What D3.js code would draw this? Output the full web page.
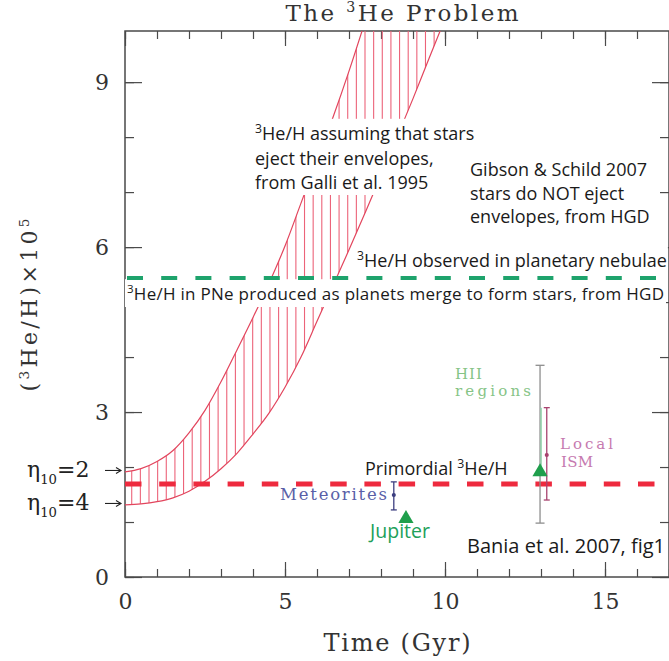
<!DOCTYPE html>
<html>
<head>
<meta charset="utf-8">
<script src="https://cdn.jsdelivr.net/npm/d3@7"></script>
<style>
  body { margin: 0; background: #fff; }
  svg { display: block; }
</style>
</head>
<body>
<svg id="chart" width="669" height="661"></svg>
<script>
// Galli et al. 1995 band, 3He/H x 1e5 against time in Gyr
const upperTime  = [0, 0.5, 1, 1.5, 2, 2.5, 3, 3.5, 4, 4.5, 5, 5.5, 6, 6.5, 7, 7.5];
const upperValue = [1.91, 1.97, 2.1, 2.3, 2.62, 3.03, 3.55, 4.13, 4.72, 5.34, 6.02, 6.8, 7.58, 8.36, 9.2, 10.1];
const lowerTime  = [0, 0.5, 1, 1.5, 2, 2.5, 3, 3.5, 4, 4.5, 5, 5.5, 6, 6.5, 7, 7.5, 8, 8.5, 9, 9.5, 10];
const lowerValue = [1.31, 1.33, 1.37, 1.44, 1.56, 1.74, 1.97, 2.25, 2.6, 2.98, 3.45, 4.0, 4.65, 5.3, 5.95, 6.62, 7.3, 8.0, 8.7, 9.43, 10.15];

// horizontal reference levels
const primordialLevel = 1.69;
const nebulaeLevel = 5.44;

// error bars
const barNames = ['Meteorites', 'HII regions', 'Local ISM'];
const barTime  = [8.4, 12.97, 13.18];
const barLow   = [1.22, 0.98, 1.4];
const barHigh  = [1.73, 3.85, 3.08];
const barMid   = [1.49, null, 2.22];

// triangle markers
const markerNames = ['Jupiter', 'HII regions'];
const markerTime  = [8.78, 12.97];
const markerValue = [1.06, 1.91];
const markerHigh  = [null, 3.08];

// axes
const xMinorTicks = [0, 1, 2, 3, 4, 5, 6, 7, 8, 9, 10, 11, 12, 13, 14, 15, 16, 17];
const xMajorTicks = [0, 5, 10, 15];
const yMinorTicks = [0, 1, 2, 3, 4, 5, 6, 7, 8, 9];
const yMajorTicks = [0, 3, 6, 9];
const xMax = 17, yMax = 9.93;

const serif = '"DejaVu Serif", serif';
const sans = '"Open Sans", sans-serif';
const axisColor = '#4a4a4a';

const svg = d3.select('#chart');

const x = d3.scaleLinear().domain([0, xMax]).range([125, 669]);
const y = d3.scaleLinear().domain([0, yMax]).range([577, 31]);

const defs = svg.append('defs');
defs.append('clipPath').attr('id', 'plotClip')
  .append('rect')
  .attr('x', x(0)).attr('y', y(yMax))
  .attr('width', x(xMax) - x(0)).attr('height', y(0) - y(yMax));

const line = d3.line().curve(d3.curveMonotoneX);
const upperPts = upperTime.map((t, i) => [x(t), y(upperValue[i])]);
const lowerPts = lowerTime.map((t, i) => [x(t), y(lowerValue[i])]);
const upperPath = line(upperPts);
const lowerPath = line(lowerPts);
const lowerBack = line(lowerPts.slice().reverse());

defs.append('clipPath').attr('id', 'bandClip')
  .append('path')
  .attr('d', upperPath + 'L' + lowerBack.slice(1) + 'Z');

// ---- axes ----
function styleAxis(g) {
  g.select('.domain').remove();
  g.selectAll('line').attr('stroke', axisColor).attr('stroke-width', 1.2);
  g.selectAll('text')
    .attr('font-family', serif)
    .attr('font-size', 22)
    .attr('fill', '#333');
}

svg.append('g')
  .attr('transform', `translate(0, ${y(0)})`)
  .call(d3.axisBottom(x).tickValues(xMinorTicks).tickSize(-8).tickFormat(''))
  .call(styleAxis);
svg.append('g')
  .attr('transform', `translate(0, ${y(0)})`)
  .call(d3.axisBottom(x).tickValues(xMajorTicks).tickSize(-15).tickPadding(16).tickFormat(d3.format('d')))
  .call(styleAxis);

svg.append('g')
  .attr('transform', `translate(0, ${y(yMax)})`)
  .call(d3.axisTop(x).tickValues(xMinorTicks).tickSize(-8).tickFormat(''))
  .call(styleAxis);
svg.append('g')
  .attr('transform', `translate(0, ${y(yMax)})`)
  .call(d3.axisTop(x).tickValues(xMajorTicks).tickSize(-15).tickFormat(''))
  .call(styleAxis);

svg.append('g')
  .attr('transform', `translate(${x(0)}, 0)`)
  .call(d3.axisLeft(y).tickValues(yMinorTicks).tickSize(-9).tickFormat(''))
  .call(styleAxis);
svg.append('g')
  .attr('transform', `translate(${x(0)}, 0)`)
  .call(d3.axisLeft(y).tickValues(yMajorTicks).tickSize(-17).tickPadding(16).tickFormat(d3.format('d')))
  .call(styleAxis);

svg.append('g')
  .attr('transform', `translate(${x(xMax)}, 0)`)
  .call(d3.axisRight(y).tickValues(yMinorTicks).tickSize(-9).tickFormat(''))
  .call(styleAxis);
svg.append('g')
  .attr('transform', `translate(${x(xMax)}, 0)`)
  .call(d3.axisRight(y).tickValues(yMajorTicks).tickSize(-17).tickFormat(''))
  .call(styleAxis);

svg.append('rect')
  .attr('x', x(0)).attr('y', y(yMax))
  .attr('width', x(xMax) - x(0)).attr('height', y(0) - y(yMax))
  .attr('fill', 'none')
  .attr('stroke', axisColor)
  .attr('stroke-width', 1.5);

// ---- hatched band ----
const hatchTimes = d3.range(0.21, 10.3, 0.27);
const band = svg.append('g').attr('clip-path', 'url(#plotClip)');
band.append('g')
  .attr('clip-path', 'url(#bandClip)')
  .selectAll('line')
  .data(hatchTimes)
  .join('line')
  .attr('x1', d => x(d)).attr('x2', d => x(d))
  .attr('y1', y(0)).attr('y2', y(yMax))
  .attr('stroke', '#ec6379')
  .attr('stroke-width', 1.1);
band.selectAll('path.edge')
  .data([upperPath, lowerPath])
  .join('path')
  .attr('class', 'edge')
  .attr('d', d => d)
  .attr('fill', 'none')
  .attr('stroke', '#e2455d')
  .attr('stroke-width', 1.2);

// ---- text helper: parts are [string, shift (em), scale] ----
function richText(g, px, py, parts, size, family) {
  const t = g.append('text')
    .attr('x', px).attr('y', py)
    .attr('font-family', family)
    .attr('font-size', size);
  let cur = 0;
  parts.forEach(([str, shift = 0, scale = 1]) => {
    const target = shift * size;
    t.append('tspan')
      .attr('dy', target - cur)
      .attr('font-size', size * scale)
      .text(str);
    cur = target;
  });
  return t;
}

function boxBehind(g, pad) {
  const b = g.node().getBBox();
  g.insert('rect', ':first-child')
    .attr('x', b.x - pad).attr('y', b.y - pad)
    .attr('width', b.width + 2 * pad).attr('height', b.height + 2 * pad)
    .attr('fill', '#fff');
}

const notes = svg.append('g').attr('fill', '#1a1a1a');

// Galli block
const galli = notes.append('g');
richText(galli, 255, 140, [['3', -0.4, 0.68], ['He/H assuming that stars']], 18, sans);
richText(galli, 255, 165, [['eject their envelopes,']], 18, sans);
richText(galli, 255, 189, [['from Galli et al. 1995']], 18, sans);
boxBehind(galli, 1);

const gibson = notes.append('g');
richText(gibson, 470, 176, [['Gibson & Schild 2007']], 18, sans);
richText(gibson, 470, 200, [['stars do NOT eject']], 18, sans);
richText(gibson, 470, 223, [['envelopes, from HGD']], 18, sans);

const observed = notes.append('g');
richText(observed, 357, 267, [['3', -0.4, 0.68], ['He/H observed in planetary nebulae']], 18, sans);
boxBehind(observed, 1);

const pne = notes.append('g');
richText(pne, 127, 300, [['3', -0.4, 0.68], ['He/H in PNe produced as planets merge to form stars, from HGD']], 17, sans)
  .attr('textLength', 537).attr('lengthAdjust', 'spacing');
boxBehind(pne, 2);

// ---- dashed reference levels ----
svg.append('line')
  .attr('x1', x(0)).attr('x2', x(xMax))
  .attr('y1', y(nebulaeLevel)).attr('y2', y(nebulaeLevel))
  .attr('stroke', '#1ea36c')
  .attr('stroke-width', 4)
  .attr('stroke-dasharray', '16 18.2')
  .attr('stroke-dashoffset', 32.2);

svg.append('line')
  .attr('x1', x(0)).attr('x2', x(xMax))
  .attr('y1', y(primordialLevel)).attr('y2', y(primordialLevel))
  .attr('stroke', '#ee2a3e')
  .attr('stroke-width', 5)
  .attr('stroke-dasharray', '16.5 17.7');

richText(notes, 365, 475, [['Primordial '], ['3', -0.4, 0.68], ['He/H']], 18, sans);
richText(notes, 467, 553, [['Bania et al. 2007, fig1']], 20, sans);
richText(notes, 370, 538, [['Jupiter']], 19.5, sans).attr('fill', '#21a05a');

// ---- error bars ----
const barColor = { 'Meteorites': '#3d3f80', 'HII regions': '#8e8e8e', 'Local ISM': '#a8436f' };
const barCap = { 'Meteorites': 3, 'HII regions': 4.5, 'Local ISM': 3 };
const bars = barNames.map((n, i) => ({ name: n, t: barTime[i], lo: barLow[i], hi: barHigh[i], mid: barMid[i] }));

const barG = svg.append('g')
  .selectAll('g')
  .data(bars)
  .join('g')
  .attr('stroke', d => barColor[d.name])
  .attr('stroke-width', 1.3);
barG.append('line')
  .attr('x1', d => x(d.t)).attr('x2', d => x(d.t))
  .attr('y1', d => y(d.lo)).attr('y2', d => y(d.hi));
barG.append('line')
  .attr('x1', d => x(d.t) - barCap[d.name]).attr('x2', d => x(d.t) + barCap[d.name])
  .attr('y1', d => y(d.lo)).attr('y2', d => y(d.lo));
barG.append('line')
  .attr('x1', d => x(d.t) - barCap[d.name]).attr('x2', d => x(d.t) + barCap[d.name])
  .attr('y1', d => y(d.hi)).attr('y2', d => y(d.hi));
barG.filter(d => d.mid !== null)
  .append('circle')
  .attr('cx', d => x(d.t)).attr('cy', d => y(d.mid))
  .attr('r', 1.4)
  .attr('fill', d => barColor[d.name]);

// ---- triangle markers ----
const markers = markerNames.map((n, i) => ({ name: n, t: markerTime[i], v: markerValue[i], hi: markerHigh[i] }));
svg.append('g')
  .selectAll('line')
  .data(markers.filter(d => d.hi !== null))
  .join('line')
  .attr('x1', d => x(d.t) + 1).attr('x2', d => x(d.t) + 1)
  .attr('y1', d => y(d.v)).attr('y2', d => y(d.hi))
  .attr('stroke', '#8fd0a8')
  .attr('stroke-width', 1.5);
svg.append('g')
  .selectAll('path')
  .data(markers)
  .join('path')
  .attr('transform', d => `translate(${x(d.t)}, ${y(d.v)})`)
  .attr('d', d3.symbol(d3.symbolTriangle).size(100))
  .attr('fill', '#1f9f4c');

// serif data labels
const serifLabels = svg.append('g').attr('font-family', serif);
serifLabels.append('text').attr('x', 280).attr('y', 500).attr('font-size', 16.5)
  .attr('textLength', 107).attr('lengthAdjust', 'spacing')
  .attr('fill', '#5a5fa8').text('Meteorites');

const twoLine = [
  ['HII', 455, 378.5, 27, '#86c486'],
  ['regions', 455, 396, 76, '#86c486'],
  ['Local', 560, 449, 53, '#c67ab0'],
  ['ISM', 561, 466.5, 32, '#c67ab0']
];
twoLine.forEach(([str, px, py, len, col]) => {
  serifLabels.append('text')
    .attr('x', px).attr('y', py).attr('font-size', 15)
    .attr('textLength', len).attr('lengthAdjust', 'spacing')
    .attr('fill', col).text(str);
});

// ---- eta labels with arrows ----
const etaLabels = [['2', upperValue[0]], ['4', lowerValue[0]]];
etaLabels.forEach(([eta, v]) => {
  const ay = y(v) - 1.5;
  richText(svg, 27, ay + 7, [['η'], ['10', 0.3, 0.6], ['=' + eta]], 22, serif).attr('fill', '#222');
  svg.append('line')
    .attr('x1', 105).attr('x2', 121).attr('y1', ay).attr('y2', ay)
    .attr('stroke', '#222').attr('stroke-width', 1.1);
  svg.append('path')
    .attr('d', `M116,${ay - 3}L121,${ay}L116,${ay + 3}`)
    .attr('fill', 'none').attr('stroke', '#222').attr('stroke-width', 1.1);
});

// ---- titles ----
richText(svg, 402, 21, [['The '], ['3', -0.38, 0.62], ['He Problem']], 23, serif)
  .attr('text-anchor', 'middle').attr('fill', '#333')
  .attr('textLength', 233).attr('lengthAdjust', 'spacing');

richText(svg, 397, 651, [['Time (Gyr)']], 24, serif)
  .attr('text-anchor', 'middle').attr('fill', '#333')
  .attr('textLength', 147).attr('lengthAdjust', 'spacing');

richText(svg, 0, 0, [['('], ['3', -0.38, 0.62], ['He/H)×10'], ['5', -0.38, 0.62]], 22, serif)
  .attr('transform', 'translate(37, 305) rotate(-90)')
  .attr('text-anchor', 'middle').attr('fill', '#333')
  .attr('textLength', 173).attr('lengthAdjust', 'spacing');
</script>
</body>
</html>
